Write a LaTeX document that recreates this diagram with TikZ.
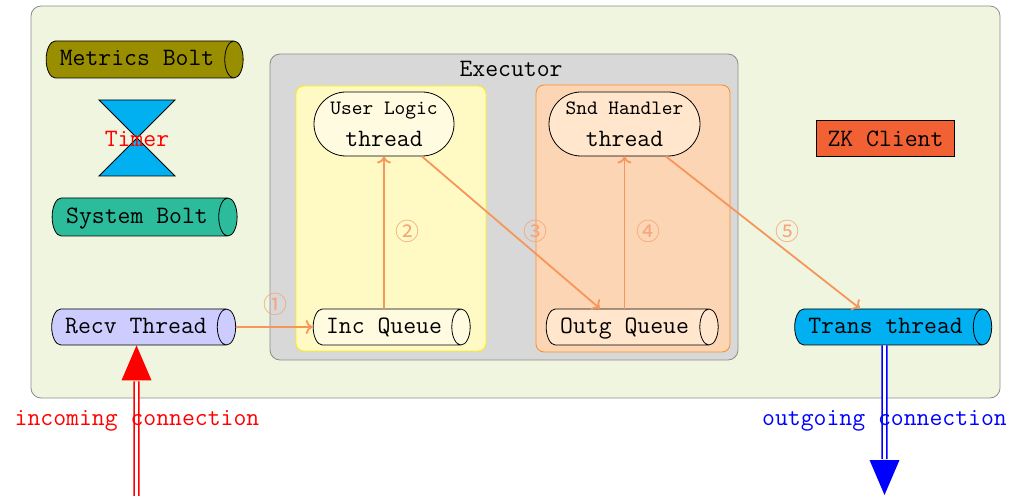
\documentclass[tikz,border=0pt]{standalone}
\usepackage{fontspec}
\newfontfamily\symfont{Noto Sans CJK SC}
\usetikzlibrary{shapes.geometric,shapes.misc,arrows.meta,calc}
\definecolor{bggreen}{RGB}{240,245,223}
\definecolor{execgray}{RGB}{216,216,216}
\definecolor{ylwfill}{RGB}{255,250,196}
\definecolor{ylwline}{RGB}{255,240,0}
\definecolor{orgfill}{RGB}{252,213,180}
\definecolor{orgline}{RGB}{250,140,40}
\definecolor{pillyl}{RGB}{255,251,225}
\definecolor{pillor}{RGB}{255,230,205}
\definecolor{flow}{RGB}{247,150,90}
\definecolor{numc}{RGB}{245,165,120}
\definecolor{olive}{RGB}{153,142,0}
\definecolor{teal2}{RGB}{44,187,155}
\definecolor{lav}{RGB}{204,204,255}
\definecolor{sky}{RGB}{0,176,240}
\definecolor{zk}{RGB}{242,97,52}
\begin{document}
\begin{tikzpicture}[x=0.5pt,y=-0.5pt,
  font=\ttfamily\fontsize{12.5}{14}\selectfont,
  cyl/.style={cylinder, draw=black, shape aspect=0.8, inner sep=2pt, text height=0.7em, text depth=0.05em, minimum width=#1},
  pill/.style={rounded rectangle, draw=black, align=center, minimum width=72pt, minimum height=32pt, inner sep=1pt},
  flowarrow/.style={draw=flow, line width=0.9pt, -{To[length=3.5pt,width=7pt]}},
  num/.style={text=numc, font=\symfont\fontsize{12}{12}\selectfont, inner sep=0pt},
  conn/.style={line width=0.9pt, double=white, double distance=1.3pt}
]
\useasboundingbox (0,0) rectangle (1016,496);
% backgrounds
\draw[fill=bggreen, draw=gray!90, rounded corners=5pt] (31,6) rectangle (1000,398);
\draw[fill=execgray, draw=gray!90, rounded corners=5pt] (270,54) rectangle (738,360);
\node (exlabel) at (511,69) {Executor};
\draw[fill=ylwfill, draw=ylwline, rounded corners=4pt] (296,86) rectangle (486,351);
\draw[fill=orgfill, draw=orgline, rounded corners=4pt] (536,85) rectangle (730,352);

% left column
\node[cyl=18.5pt, fill=olive, minimum height=98.5pt] (metrics) at (137,59.5) {Metrics Bolt};
\draw[fill=sky, draw=black] (99,100) -- (175,100) -- (99,176) -- (175,176) -- cycle;
\node[text=red] (timer) at (137,139) {Timer};
\node[cyl=19pt, fill=teal2, minimum height=92.5pt] (sysbolt) at (137,217) {System Bolt};
\node[cyl=18pt, fill=lav, minimum height=92pt] (recv) at (136,327) {Recv Thread};

% executor contents
\node[pill, fill=pillyl] (ul) at (384,124) {{\fontsize{10.2}{10}\selectfont User Logic}\\[2pt]thread};
\node[pill, fill=pillor, minimum width=77.5pt] (snd) at (624.5,124) {{\fontsize{10.2}{10}\selectfont Snd Handler}\\[2pt]thread};
\node[cyl=18pt, fill=pillyl, minimum height=78.5pt] (incq) at (384,327) {Inc Queue};
\node[cyl=18pt, fill=pillor, minimum height=86pt] (outq) at (624.5,327) {Outg Queue};

% right column
\node[draw=black, fill=zk, minimum width=69pt, minimum height=18pt, inner sep=2pt] (zkc) at (885.5,138.5) {ZK Client};
\node[cyl=18pt, fill=sky, minimum height=98.5pt] (trans) at (885.5,327) {Trans thread};

% flow arrows
\draw[flowarrow] (recv.east) -- (incq.west);
\node[num] (n1) at (275,304) {①};
\draw[flowarrow] (incq.north -| ul.south) -- (ul.south);
\node[num] (n2) at (407,231) {②};
\coordinate (outqin) at ($(outq.north)+(-24.5,0)$);
\draw[flowarrow] (ul) -- (outqin);
\node[num] (n3) at (535,231) {③};
\draw[flowarrow] (outq.north -| snd.south) -- (snd.south);
\node[num] (n4) at (648,231) {④};
\coordinate (transin) at ($(trans.north)+(-25.5,0)$);
\draw[flowarrow] (snd) -- (transin);
\node[num] (n5) at (787,231) {⑤};

% incoming connection
\coordinate (incbot) at (136.5,500);
\coordinate (inctip) at ($(recv.south)+(0.5,0)$);
\draw[red, conn] (incbot) -- ($(inctip)+(0,36)$);
\fill[red] (inctip) -- ++(-15,35) -- ++(30,0) -- cycle;
\node[text=red] (inclabel) at (137,421) {incoming connection};

% outgoing connection
\coordinate (outtop) at ($(trans.south)+(-1,0)$);
\coordinate (outtip) at (884.5,495);
\draw[blue, conn] (outtop) -- ($(outtip)+(0,-36)$);
\fill[blue] (outtip) -- ++(-15,-35) -- ++(30,0) -- cycle;
\node[text=blue] (outlabel) at (884.5,421) {outgoing connection};
\end{tikzpicture}
\end{document}
